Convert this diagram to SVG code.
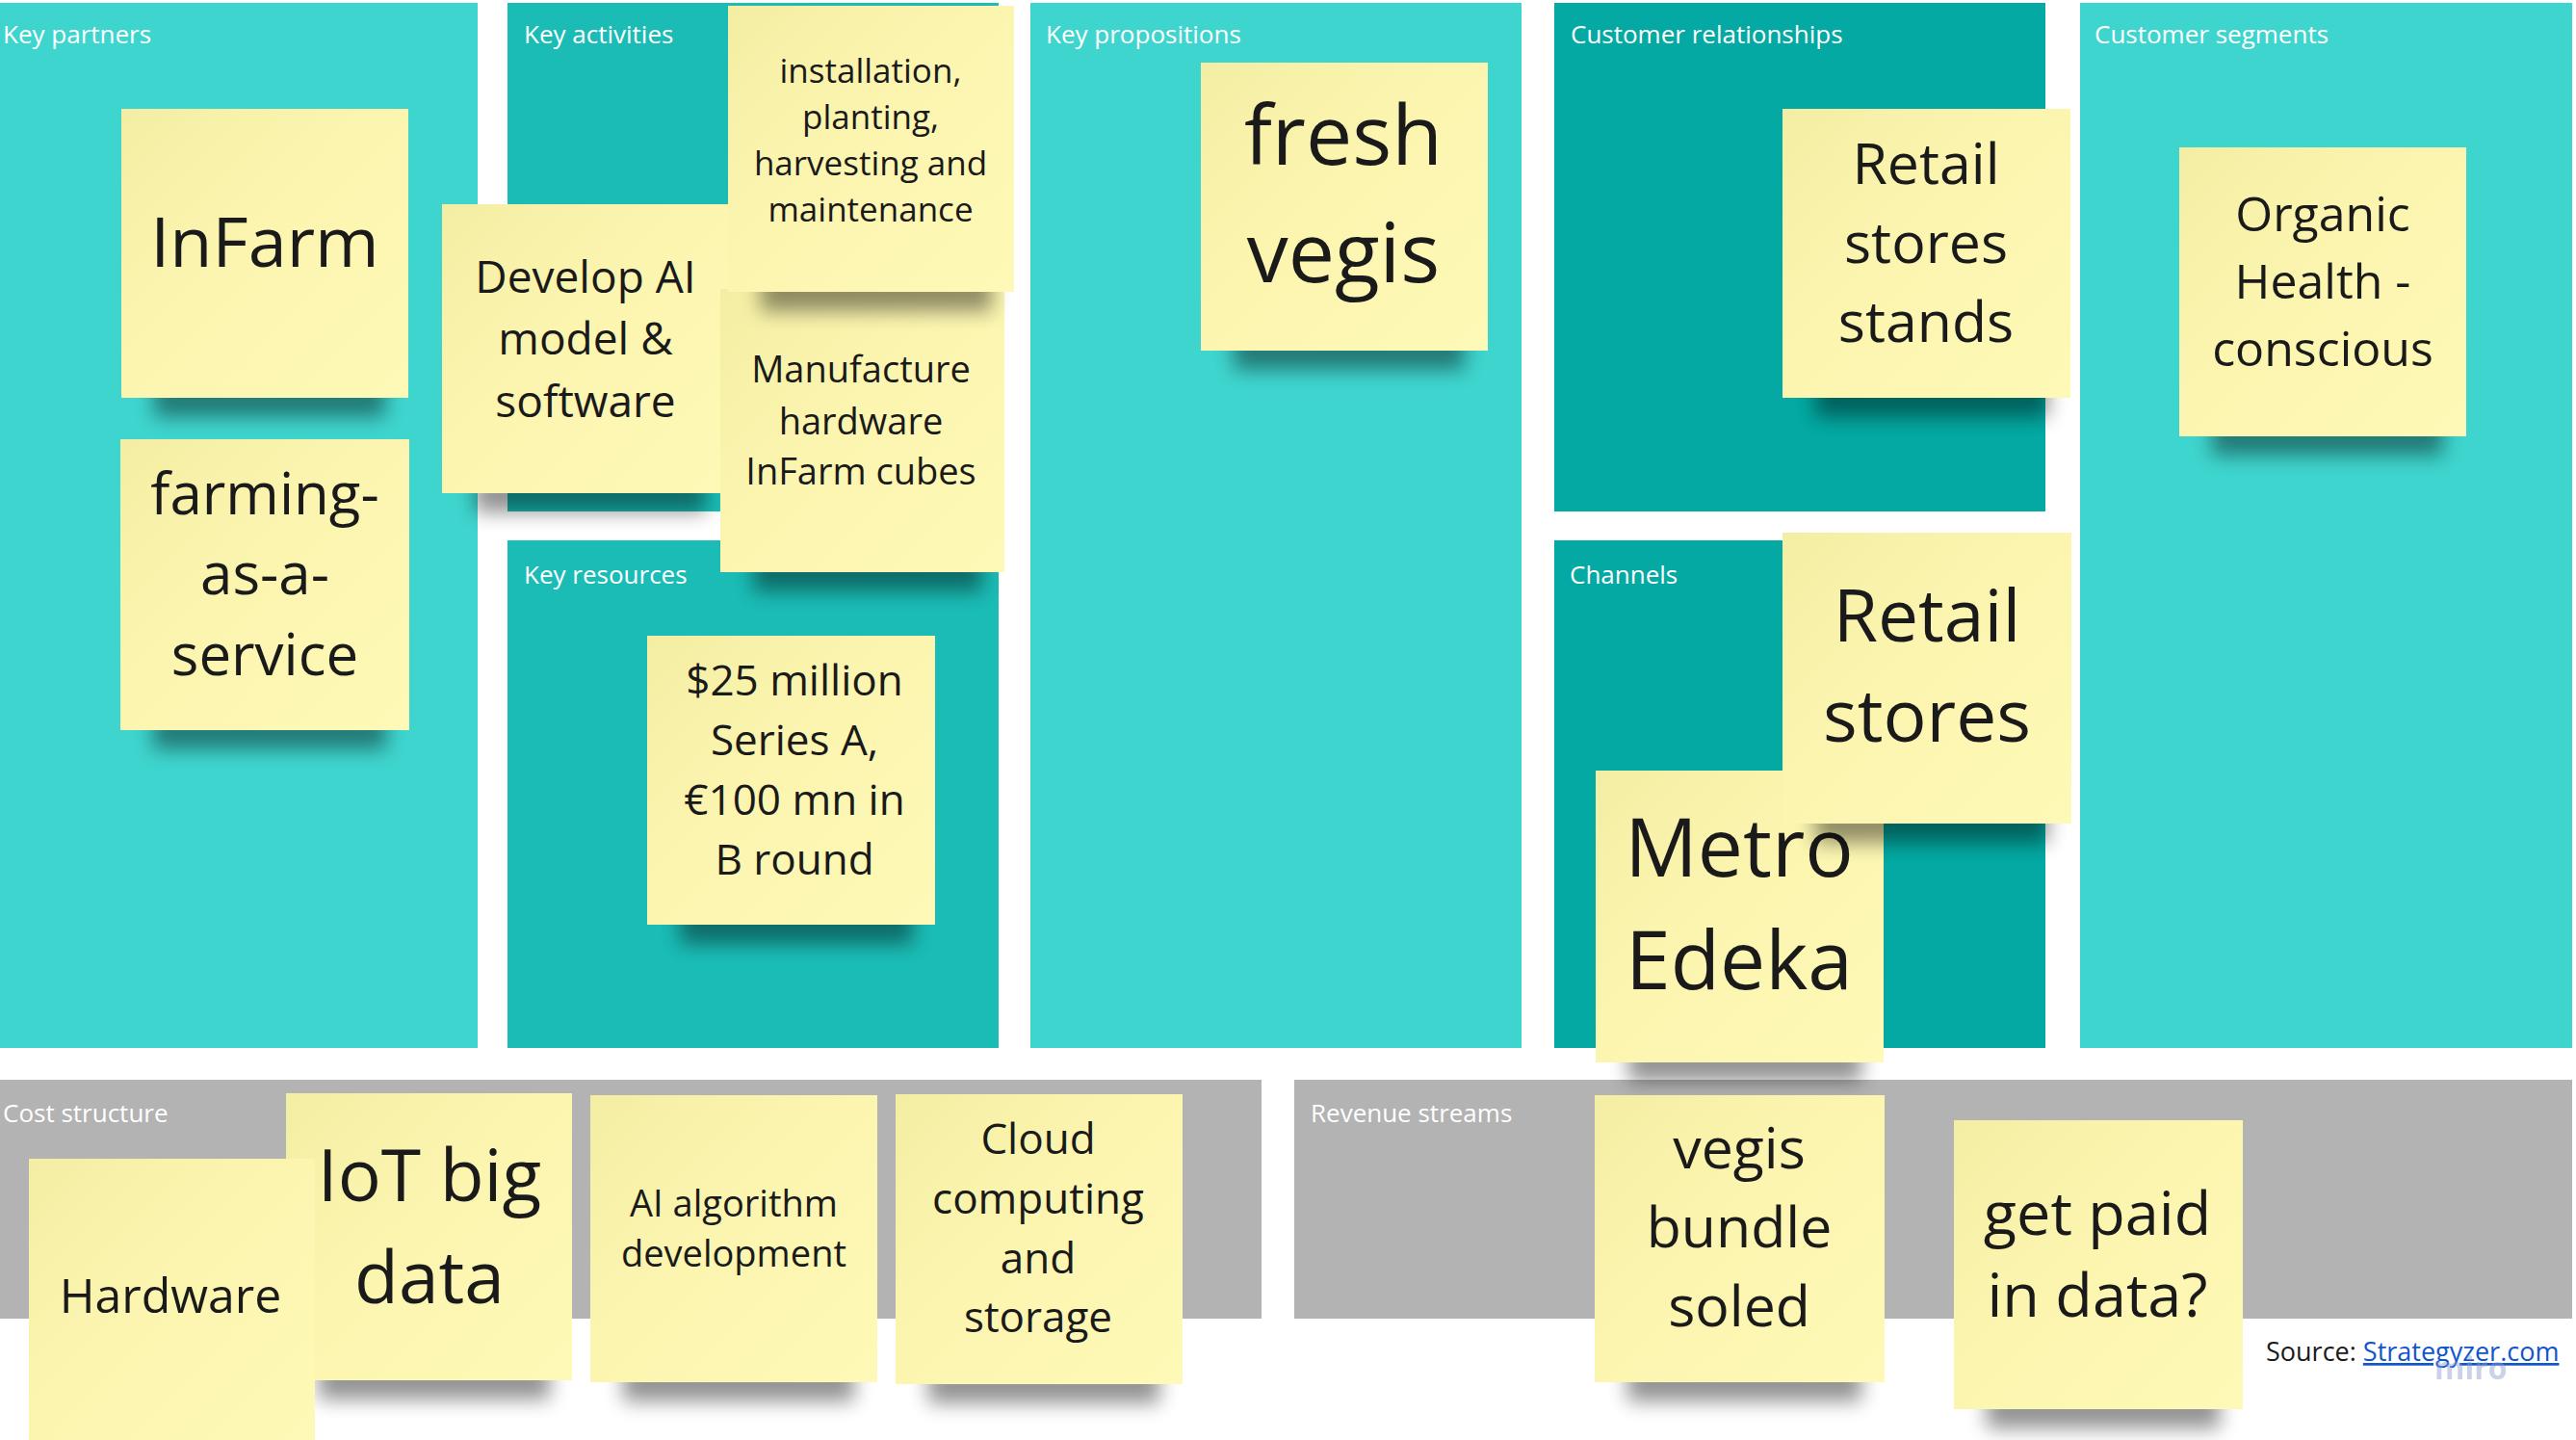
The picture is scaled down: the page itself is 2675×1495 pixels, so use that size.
<svg xmlns="http://www.w3.org/2000/svg" width="2675" height="1495" viewBox="0 0 2675 1495">
<defs>
<style>
.light{fill:#3ED5CE}
.mid{fill:#1ABCB5}
.dark{fill:#03A9A2}
.gray{fill:#B3B3B3}
.lbl{font-family:"Open Sans","Noto Sans","Liberation Sans",sans-serif;font-size:26px;fill:#FFFFFF}
.note{fill:url(#ng)}
.nt{font-family:"Open Sans","Noto Sans","Liberation Sans",sans-serif;fill:#1A1A1A;text-anchor:middle}
.shd{fill:#000000;opacity:0.42;filter:url(#sh)}
.src{font-family:"Open Sans","Noto Sans","Liberation Sans",sans-serif;font-size:27px;fill:#1A1A1A}
</style>
<linearGradient id="ng" x1="0" y1="0" x2="1" y2="1">
<stop offset="0" stop-color="#F4EEA4"/>
<stop offset="0.45" stop-color="#FBF5B0"/>
<stop offset="1" stop-color="#FEF9B6"/>
</linearGradient>
<filter id="sh" x="-30%" y="-100%" width="160%" height="300%">
<feGaussianBlur stdDeviation="10"/>
</filter>
</defs>
<rect x="0" y="0" width="2675" height="1495" fill="#FFFFFF"/>

<g id="panels">
<g id="p-key-partners"><rect class="light" x="0" y="3" width="496" height="1085"/><text class="lbl" x="3" y="45">Key partners</text></g>
<g id="p-key-activities"><rect class="mid" x="527" y="3" width="510" height="528"/><text class="lbl" x="544" y="45">Key activities</text></g>
<g id="p-key-resources"><rect class="mid" x="527" y="561" width="510" height="527"/><text class="lbl" x="544" y="606">Key resources</text></g>
<g id="p-key-propositions"><rect class="light" x="1070" y="3" width="510" height="1085"/><text class="lbl" x="1086" y="45">Key propositions</text></g>
<g id="p-customer-relationships"><rect class="dark" x="1614" y="3" width="510" height="528"/><text class="lbl" x="1631" y="45">Customer relationships</text></g>
<g id="p-channels"><rect class="dark" x="1614" y="561" width="510" height="527"/><text class="lbl" x="1630" y="606">Channels</text></g>
<g id="p-customer-segments"><rect class="light" x="2160" y="3" width="511" height="1085"/><text class="lbl" x="2175" y="45">Customer segments</text></g>
<g id="p-cost-structure"><rect class="gray" x="0" y="1121" width="1310" height="248"/><text class="lbl" x="3" y="1165">Cost structure</text></g>
<g id="p-revenue-streams"><rect class="gray" x="1344" y="1121" width="1327" height="248"/><text class="lbl" x="1361" y="1165">Revenue streams</text></g>
</g>

<g id="connectors"/>

<g id="n-infarm">
<rect class="shd" x="160" y="393" width="240" height="40"/>
<rect class="note" x="126" y="113" width="298" height="300"/>
<text class="nt" font-size="72" x="275" y="277">InFarm</text>
</g>
<g id="n-farming">
<rect class="shd" x="159" y="738" width="242" height="40"/>
<rect class="note" x="125" y="456" width="300" height="302"/>
<text class="nt" font-size="60" x="275" y="534">farming-</text>
<text class="nt" font-size="60" x="275" y="617">as-a-</text>
<text class="nt" font-size="60" x="275" y="701">service</text>
</g>
<g id="n-develop">
<rect class="shd" x="493" y="492" width="240" height="40"/>
<rect class="note" x="459" y="212" width="297" height="300"/>
<text class="nt" font-size="46" x="608" y="304">Develop AI</text>
<text class="nt" font-size="46" x="608" y="368">model &amp;</text>
<text class="nt" font-size="46" x="608" y="433">software</text>
</g>
<g id="n-manufacture">
<rect class="shd" x="782" y="574" width="238" height="40"/>
<rect class="note" x="748" y="300" width="295" height="294"/>
<text class="nt" font-size="38" x="894" y="397">Manufacture</text>
<text class="nt" font-size="38" x="894" y="451">hardware</text>
<text class="nt" font-size="38" x="894" y="503">InFarm cubes</text>
</g>
<g id="n-installation">
<rect class="shd" x="790" y="283" width="240" height="40"/>
<rect class="note" x="756" y="6" width="297" height="297"/>
<text class="nt" font-size="35" x="904" y="86">installation,</text>
<text class="nt" font-size="35" x="904" y="134">planting,</text>
<text class="nt" font-size="35" x="904" y="182">harvesting and</text>
<text class="nt" font-size="35" x="904" y="230">maintenance</text>
</g>
<g id="n-funding">
<rect class="shd" x="706" y="940" width="242" height="40"/>
<rect class="note" x="672" y="660" width="299" height="300"/>
<text class="nt" font-size="44" x="825" y="722">$25 million</text>
<text class="nt" font-size="44" x="825" y="784">Series A,</text>
<text class="nt" font-size="44" x="825" y="846">€100 mn in</text>
<text class="nt" font-size="44" x="825" y="908">B round</text>
</g>
<g id="n-fresh-vegis">
<rect class="shd" x="1281" y="344" width="240" height="40"/>
<rect class="note" x="1247" y="65" width="298" height="299"/>
<text class="nt" font-size="86" x="1395" y="171">fresh</text>
<text class="nt" font-size="86" x="1395" y="293">vegis</text>
</g>
<g id="n-retail-stands">
<rect class="shd" x="1885" y="393" width="242" height="40"/>
<rect class="note" x="1851" y="113" width="299" height="300"/>
<text class="nt" font-size="59" x="2000" y="191">Retail</text>
<text class="nt" font-size="59" x="2000" y="273">stores</text>
<text class="nt" font-size="59" x="2000" y="355">stands</text>
</g>
<g id="n-organic">
<rect class="shd" x="2297" y="433" width="240" height="40"/>
<rect class="note" x="2263" y="153" width="298" height="300"/>
<text class="nt" font-size="50" x="2412" y="240">Organic</text>
<text class="nt" font-size="50" x="2412" y="310">Health -</text>
<text class="nt" font-size="50" x="2412" y="380">conscious</text>
</g>
<g id="n-metro-edeka">
<rect class="shd" x="1691" y="1083" width="242" height="40"/>
<rect class="note" x="1657" y="800" width="299" height="303"/>
<text class="nt" font-size="84" x="1806" y="910">Metro</text>
<text class="nt" font-size="84" x="1806" y="1027">Edeka</text>
</g>
<g id="n-retail-stores">
<rect class="shd" x="1885" y="835" width="242" height="40"/>
<rect class="note" x="1851" y="553" width="300" height="302"/>
<text class="nt" font-size="75" x="2001" y="666">Retail</text>
<text class="nt" font-size="75" x="2001" y="770">stores</text>
</g>
<g id="n-iot">
<rect class="shd" x="331" y="1413" width="240" height="40"/>
<rect class="note" x="297" y="1135" width="297" height="298"/>
<text class="nt" font-size="75" x="446" y="1247">IoT big</text>
<text class="nt" font-size="75" x="446" y="1353">data</text>
</g>
<g id="n-hardware">
<rect class="note" x="30" y="1203" width="297" height="300"/>
<text class="nt" font-size="50" x="177" y="1363">Hardware</text>
</g>
<g id="n-ai-algorithm">
<rect class="shd" x="647" y="1415" width="240" height="40"/>
<rect class="note" x="613" y="1137" width="298" height="298"/>
<text class="nt" font-size="38" x="762" y="1263">AI algorithm</text>
<text class="nt" font-size="38" x="762" y="1315">development</text>
</g>
<g id="n-cloud">
<rect class="shd" x="964" y="1417" width="240" height="40"/>
<rect class="note" x="930" y="1136" width="298" height="301"/>
<text class="nt" font-size="44" x="1078" y="1198">Cloud</text>
<text class="nt" font-size="44" x="1078" y="1260">computing</text>
<text class="nt" font-size="44" x="1078" y="1322">and</text>
<text class="nt" font-size="44" x="1078" y="1383">storage</text>
</g>
<g id="n-vegis-bundle">
<rect class="shd" x="1690" y="1415" width="243" height="40"/>
<rect class="note" x="1656" y="1137" width="301" height="298"/>
<text class="nt" font-size="59" x="1806" y="1213">vegis</text>
<text class="nt" font-size="59" x="1806" y="1295">bundle</text>
<text class="nt" font-size="59" x="1806" y="1377">soled</text>
</g>
<g id="n-get-paid">
<rect class="shd" x="2063" y="1443" width="242" height="40"/>
<rect class="note" x="2029" y="1163" width="300" height="300"/>
<text class="nt" font-size="63" x="2178" y="1282">get paid</text>
<text class="nt" font-size="63" x="2178" y="1367">in data?</text>
</g>

<g id="source">
<text class="src" x="2353" y="1413">Source: <tspan fill="#1155CC" text-decoration="underline">Strategyzer.com</tspan></text>
<text x="2528" y="1432" font-family="'Open Sans','Noto Sans',sans-serif" font-size="32" font-weight="bold" fill="#8C9CCB" opacity="0.45">miro</text>
</g>
</svg>
